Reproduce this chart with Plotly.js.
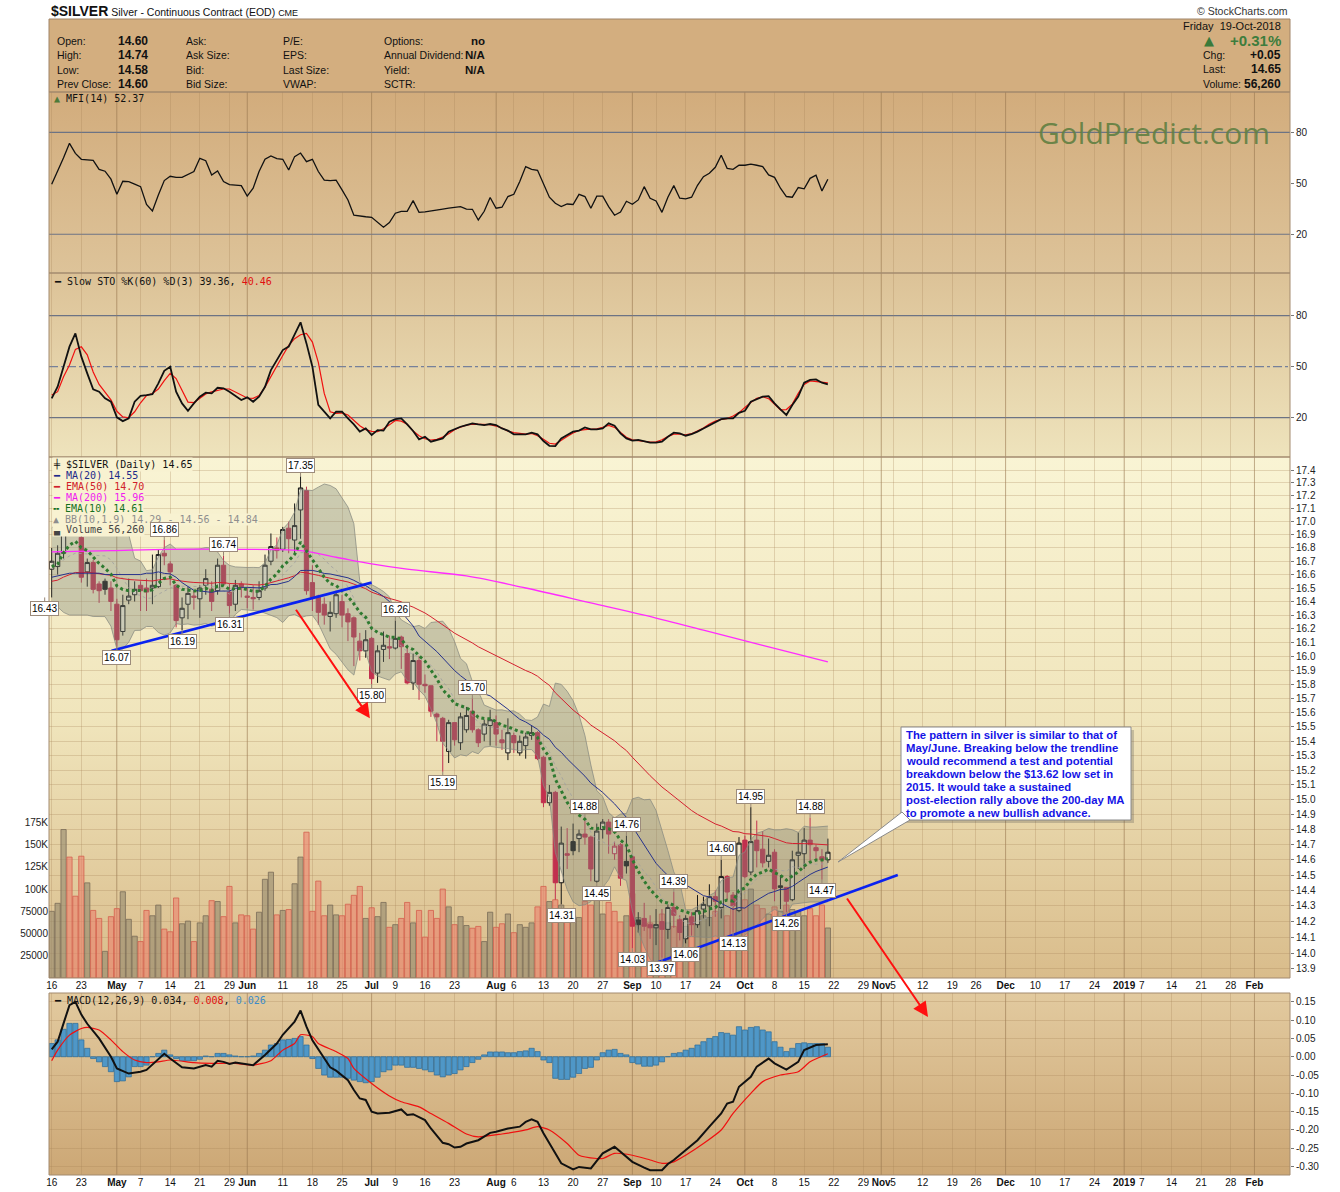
<!DOCTYPE html>
<html><head><meta charset="utf-8">
<script src="https://cdn.plot.ly/plotly-3.0.1.min.js"></script>
<style>html,body{margin:0;padding:0;background:#fff;}#chart{width:1340px;height:1192px;}</style>
</head><body><div id="chart"></div>
<script>
// ===================== DATA =====================
const holidays = ['2018-05-28','2018-07-04','2018-09-03','2018-11-22','2018-12-25','2019-01-01'];

const openP = [16.64,16.66,16.76,17.16,17.06,16.88,16.62,16.69,16.53,16.55,
16.50,16.38,16.18,16.41,16.45,16.52,16.50,16.50,16.51,16.76,
16.68,16.52,16.28,16.38,16.43,16.42,16.52,16.49,16.48,16.67,
16.47,16.38,16.53,16.43,16.43,16.43,16.50,16.70,16.80,16.79,
16.95,16.86,17.09,17.24,16.54,16.44,16.38,16.29,16.31,16.40,
16.31,16.28,16.11,16.04,16.13,15.88,16.05,16.07,16.06,16.14,
16.02,15.81,15.97,15.80,15.79,15.59,15.56,15.33,15.53,15.39,
15.48,15.61,15.48,15.45,15.51,15.53,15.41,15.32,15.44,15.32,
15.37,15.44,15.46,15.29,14.98,15.05,14.45,14.64,14.72,14.74,
14.77,14.75,14.46,14.80,14.85,14.64,14.70,14.59,14.62,14.21,
14.22,14.18,14.16,14.20,14.15,14.29,14.21,14.09,14.23,14.18,
14.28,14.30,14.36,14.29,14.49,14.37,14.27,14.73,14.52,14.73,
14.67,14.59,14.65,14.43,14.42,14.34,14.63,14.64,14.73,14.68,
14.62,14.60];
const highP = [16.80,16.82,17.22,17.30,17.12,16.92,16.72,16.71,16.55,16.57,
16.55,16.42,16.45,16.57,16.55,16.55,16.57,16.75,16.79,16.86,
16.70,16.53,16.43,16.51,16.48,16.52,16.64,16.55,16.72,16.74,
16.53,16.56,16.55,16.50,16.52,16.55,16.75,16.91,16.88,16.96,
17.00,17.14,17.35,17.27,16.67,16.45,16.43,16.40,16.48,16.45,
16.35,16.29,16.17,16.19,16.14,16.08,16.18,16.15,16.26,16.15,
16.07,16.02,16.00,15.87,15.79,15.60,15.57,15.55,15.53,15.60,
15.64,15.70,15.49,15.55,15.62,15.58,15.48,15.56,15.46,15.44,
15.46,15.51,15.47,15.30,15.10,15.06,14.82,14.81,14.84,14.80,
14.88,14.76,14.84,14.87,14.87,14.72,14.71,14.76,14.62,14.26,
14.32,14.24,14.28,14.28,14.31,14.39,14.24,14.24,14.26,14.37,
14.36,14.44,14.40,14.60,14.50,14.39,14.75,14.76,14.95,14.86,
14.79,14.74,14.67,14.50,14.42,14.66,14.78,14.81,14.88,14.70,
14.67,14.74];
const lowP = [16.43,16.60,16.72,17.00,16.92,16.54,16.51,16.46,16.39,16.45,
16.33,16.07,16.15,16.38,16.40,16.33,16.33,16.38,16.50,16.67,
16.52,16.21,16.19,16.27,16.34,16.28,16.45,16.33,16.45,16.52,
16.31,16.33,16.43,16.35,16.34,16.41,16.48,16.67,16.72,16.77,
16.76,16.76,16.87,16.45,16.33,16.23,16.23,16.18,16.28,16.21,
16.11,15.93,15.97,15.99,15.80,15.81,15.96,15.98,16.05,15.91,
15.80,15.76,15.69,15.74,15.57,15.40,15.19,15.25,15.37,15.34,
15.46,15.46,15.36,15.40,15.37,15.37,15.34,15.27,15.32,15.30,
15.28,15.41,15.27,14.95,14.96,14.34,14.31,14.54,14.63,14.65,
14.70,14.46,14.45,14.74,14.64,14.60,14.43,14.51,14.03,14.13,
14.14,14.09,14.05,13.97,14.09,14.16,14.08,14.06,14.11,14.16,
14.22,14.17,14.23,14.22,14.34,14.13,14.26,14.48,14.50,14.55,
14.55,14.55,14.33,14.28,14.26,14.33,14.54,14.54,14.58,14.60,
14.47,14.58];
const closeP = [16.70,16.76,17.15,17.08,16.98,16.58,16.69,16.49,16.48,16.49,
16.40,16.12,16.37,16.44,16.49,16.48,16.47,16.52,16.75,16.74,
16.62,16.26,16.35,16.46,16.44,16.50,16.57,16.40,16.67,16.53,
16.37,16.52,16.51,16.44,16.42,16.48,16.67,16.81,16.78,16.94,
16.87,16.97,17.26,16.48,16.43,16.32,16.30,16.32,16.45,16.30,
16.25,16.14,16.04,16.12,15.84,16.04,16.08,16.06,16.13,16.07,
15.81,15.97,15.80,15.79,15.61,15.57,15.40,15.53,15.41,15.57,
15.58,15.48,15.39,15.52,15.55,15.45,15.39,15.46,15.39,15.40,
15.43,15.46,15.28,14.98,15.05,14.45,14.71,14.63,14.66,14.77,
14.75,14.54,14.79,14.85,14.77,14.69,14.48,14.56,14.17,14.18,
14.17,14.16,14.18,14.15,14.29,14.24,14.13,14.22,14.18,14.27,
14.31,14.36,14.33,14.49,14.39,14.30,14.71,14.49,14.72,14.66,
14.58,14.63,14.41,14.42,14.33,14.60,14.65,14.73,14.70,14.66,
14.60,14.65];
const volumeK = [75,84,167,136,92,137,107,76,67,30,
69,78,97,66,47,41,76,70,82,55,
52,90,61,64,41,62,70,87,86,69,
103,62,71,70,55,74,111,119,71,76,
77,106,136,164,75,109,70,82,71,70,
83,93,103,67,79,69,85,57,60,67,
85,62,76,46,76,67,100,80,60,69,
59,56,58,41,74,57,61,72,51,60,
57,62,80,103,86,88,82,72,70,68,
86,82,92,72,85,75,63,70,95,68,
60,62,60,72,62,58,66,58,64,60,
70,68,75,80,70,78,95,88,100,82,
78,72,80,75,82,77,75,70,78,70,
82,56.26];

const mfi = [49.4,56.9,65.0,73.5,67.6,64.1,63.6,63.5,58.2,57.1,
52.4,43.5,51.2,51.0,49.5,48.0,37.6,33.7,43.1,51.6,
54.1,53.5,53.5,55.1,56.9,64.7,63.3,54.9,57.3,51.0,
49.2,48.9,48.6,42.4,47.1,56.9,64.1,66.1,64.5,64.1,
57.8,65.7,67.8,62.7,64.1,56.9,51.8,51.6,51.8,46.1,
40.2,31.2,30.6,30.3,30.0,26.9,24.1,26.9,32.4,33.5,
33.5,39.8,32.9,33.2,33.6,34.2,34.8,35.4,36.0,36.2,
34.8,34.7,28.4,33.5,41.6,35.3,35.9,42.2,43.5,51.0,
59.8,58.2,57.6,50.0,41.8,38.2,36.3,37.8,37.5,43.5,
42.2,35.3,42.4,42.4,36.3,31.2,33.1,39.4,37.6,40.2,
48.0,41.2,39.6,32.9,41.8,48.6,41.2,40.8,41.8,48.8,
53.9,55.9,59.4,66.5,58.8,58.2,60.6,60.6,61.2,60.6,
59.8,54.9,53.5,47.1,42.2,41.8,47.5,46.7,52.9,54.7,
45.5,52.4];

const stoK = [31.4,38.2,50.0,61.8,69.6,55.9,46.1,36.7,35.3,31.4,
29.4,20.2,18.0,19.6,29.4,32.9,33.3,33.9,40.2,47.6,
50.0,35.3,28.4,24.1,28.4,32.4,34.7,34.3,37.6,37.3,
35.3,32.7,30.4,32.0,29.4,32.4,38.2,48.0,53.9,59.8,
61.8,68.6,76.1,63.7,50.0,27.5,23.5,19.6,23.5,23.5,
19.6,16.1,11.8,13.7,9.8,12.7,12.4,17.6,19.2,19.6,
16.1,12.2,7.3,8.8,5.9,6.9,7.8,11.8,13.3,14.7,
15.7,16.7,16.1,15.7,16.3,15.7,13.7,12.4,10.2,10.2,
10.2,11.2,10.2,6.3,3.5,3.3,7.8,9.8,11.8,12.4,
14.3,13.1,13.1,13.7,16.7,15.3,10.8,7.8,6.5,6.9,
5.9,5.3,5.3,5.9,8.8,11.2,10.8,9.4,10.4,11.8,
13.7,15.7,17.6,19.2,19.6,19.6,22.9,24.1,29.4,30.8,
32.4,32.7,28.4,24.9,21.6,27.5,32.4,40.6,42.2,42.5,
40.6,39.6];
const stoD = [33.3,35.3,44.1,51.0,60.2,61.7,57.0,46.9,39.6,34.8,
30.5,23.8,20.5,20.0,23.5,28.8,33.0,34.2,36.9,41.8,
46.1,43.0,36.0,29.2,28.9,31.6,34.0,35.2,36.2,36.9,
36.9,35.2,33.2,31.6,31.4,33.0,38.0,44.5,50.6,56.6,
62.5,66.5,68.8,69.6,64.5,52.5,34.3,23.5,22.6,22.8,
21.6,18.2,15.3,13.0,12.0,11.8,13.5,15.8,18.4,18.0,
16.2,12.2,9.4,7.6,6.9,7.3,8.6,10.6,12.9,14.5,
15.6,16.2,16.2,16.1,15.9,15.1,13.9,12.1,11.2,10.8,
10.4,10.7,9.4,7.4,5.0,4.5,6.9,9.0,11.0,12.5,
13.0,13.4,13.5,14.4,15.5,14.3,11.4,8.5,7.0,6.6,
6.0,5.6,5.8,7.0,9.0,10.3,10.4,9.9,10.6,12.2,
14.0,16.3,18.0,19.0,19.5,21.0,23.0,26.0,29.0,31.4,
32.3,31.2,28.0,24.6,24.8,28.0,34.3,39.6,41.6,41.3,
41.0,40.5];

const macdHist = [0.036,0.046,0.075,0.091,0.091,0.046,0.023,-0.005,-0.014,-0.027,
-0.041,-0.068,-0.066,-0.055,-0.027,-0.027,-0.023,0.000,0.009,0.018,
0.005,-0.005,-0.011,-0.011,-0.011,-0.007,0.002,0.000,0.009,0.009,
0.005,0.002,0.000,0.000,0.002,0.009,0.018,0.032,0.036,0.046,
0.047,0.050,0.055,0.032,-0.005,-0.032,-0.050,-0.056,-0.056,-0.056,
-0.059,-0.064,-0.068,-0.071,-0.068,-0.056,-0.041,-0.036,-0.023,-0.023,
-0.029,-0.029,-0.032,-0.036,-0.041,-0.050,-0.055,-0.050,-0.046,-0.036,
-0.027,-0.016,-0.007,0.005,0.013,0.013,0.013,0.011,0.011,0.014,
0.016,0.023,0.014,-0.009,-0.016,-0.059,-0.062,-0.062,-0.056,-0.046,
-0.032,-0.029,-0.009,0.011,0.018,0.020,0.009,0.005,-0.016,-0.020,
-0.026,-0.026,-0.023,-0.014,0.000,0.009,0.011,0.018,0.023,0.032,
0.041,0.050,0.055,0.066,0.064,0.059,0.082,0.073,0.080,0.082,
0.073,0.068,0.041,0.026,0.014,0.023,0.036,0.038,0.036,0.036,
0.036,0.026];
const macdIdx = [0,1,2,3,4,5,6,8,10,11,13,15,16,18,19,20,21,22,24,25,26,27,28,29,30,31,32,34,36,38,39,41,42,43,44,46,47,48,50,51,52,53,54,55,57,59,60,61,63,64,66,67,68,69,70,72,74,75,77,79,80,81,82,83,85,86,88,89,91,93,95,96,98,100,101,103,104,105,107,109,111,113,114,115,116,118,119,121,122,124,126,127,129,131];
const macdVal = [0.020,0.041,0.091,0.141,0.150,0.115,0.090,0.050,0.000,-0.032,-0.046,-0.041,-0.036,-0.005,0.008,-0.005,-0.018,-0.029,-0.032,-0.027,-0.023,-0.027,-0.011,-0.014,-0.020,-0.016,-0.019,-0.023,0.005,0.036,0.060,0.096,0.126,0.082,0.045,-0.005,-0.029,-0.038,-0.064,-0.091,-0.114,-0.118,-0.150,-0.155,-0.153,-0.144,-0.159,-0.157,-0.173,-0.196,-0.235,-0.239,-0.248,-0.246,-0.237,-0.228,-0.208,-0.205,-0.196,-0.191,-0.178,-0.171,-0.178,-0.209,-0.264,-0.291,-0.308,-0.301,-0.305,-0.264,-0.246,-0.260,-0.287,-0.303,-0.310,-0.310,-0.293,-0.282,-0.255,-0.228,-0.191,-0.155,-0.128,-0.123,-0.082,-0.055,-0.027,-0.005,-0.018,-0.035,-0.014,0.018,0.032,0.034];
const signalIdx = [0,1,3,5,6,8,10,12,14,16,18,20,24,27,31,34,37,39,41,42,44,45,48,50,51,54,57,59,62,64,67,70,72,76,80,82,84,87,89,92,93,95,98,101,103,105,107,110,113,115,118,120,123,126,128,131];
const signalVal = [-0.011,0.018,0.059,0.077,0.080,0.073,0.046,0.014,-0.009,-0.016,-0.014,-0.009,-0.016,-0.018,-0.018,-0.023,-0.011,0.018,0.036,0.060,0.055,0.036,0.014,-0.005,-0.032,-0.073,-0.107,-0.123,-0.137,-0.155,-0.182,-0.211,-0.219,-0.211,-0.200,-0.191,-0.200,-0.237,-0.269,-0.278,-0.278,-0.264,-0.269,-0.282,-0.291,-0.287,-0.269,-0.237,-0.200,-0.155,-0.100,-0.068,-0.050,-0.041,-0.014,0.008];

const ma200Idx = [0,10,20,30,42,48,54,60,70,80,91,100,110,120,131];
const ma200Val = [16.77,16.78,16.79,16.79,16.78,16.73,16.68,16.64,16.59,16.50,16.39,16.30,16.19,16.08,15.96];
const ma20Early = [16.58,16.59,16.60,16.61,16.61,16.61,16.61,16.61,16.61,16.60,16.60,16.60,16.60,16.60,16.60,16.60,16.61,16.61,16.62];
const bbUpperEarly = [16.95,17.00,17.10,17.18,17.22,17.22,17.21,17.20,17.20];
const bbLowerEarly = [16.40,16.36,16.32,16.30,16.30,16.30,16.30,16.29,16.29];
const ema10Seed = 16.66, ema50Seed = 16.55;

const tickDates = ['2018-04-16','2018-04-23','2018-05-01','2018-05-07','2018-05-14','2018-05-21','2018-05-29','2018-06-01','2018-06-11','2018-06-18','2018-06-25','2018-07-02','2018-07-09','2018-07-16','2018-07-23','2018-08-01','2018-08-06','2018-08-13','2018-08-20','2018-08-27','2018-09-04','2018-09-10','2018-09-17','2018-09-24','2018-10-01','2018-10-08','2018-10-15','2018-10-22','2018-10-29','2018-11-01','2018-11-05','2018-11-12','2018-11-19','2018-11-26','2018-12-03','2018-12-10','2018-12-17','2018-12-24','2019-01-02','2019-01-07','2019-01-14','2019-01-21','2019-01-28','2019-02-01'];
const tickText = ['16','23','May','7','14','21','29','Jun','11','18','25','Jul','9','16','23','Aug','6','13','20','27','Sep','10','17','24','Oct','8','15','22','29','Nov','5','12','19','26','Dec','10','17','24','2019','7','14','21','28','Feb'];
const monthNames = ['May','Jun','Jul','Aug','Sep','Oct','Nov','Dec','2019','Feb'];

const priceTickVals = [13.9,14.0,14.1,14.2,14.3,14.4,14.5,14.6,14.7,14.8,14.9,15.0,15.1,15.2,15.3,15.4,15.5,15.6,15.7,15.8,15.9,16.0,16.1,16.2,16.3,16.4,16.5,16.6,16.7,16.8,16.9,17.0,17.1,17.2,17.3,17.4];
const volTickVals = [25,50,75,100,125,150,175];
const volTickText = ['25000','50000','75000','100K','125K','150K','175K'];
const macdTickVals = [-0.30,-0.25,-0.20,-0.15,-0.10,-0.05,0.00,0.05,0.10,0.15];

const labelIdx = [0,42,19,29,11,22,30,58,54,71,66,90,86,92,97,98,103,105,107,113,115,118,124,128,130];
const labelPrice = [16.43,17.35,16.86,16.74,16.07,16.19,16.31,16.26,15.80,15.70,15.19,14.88,14.31,14.45,14.76,14.03,13.97,14.39,14.06,14.60,14.13,14.95,14.26,14.88,14.47];
const labelSide = ['below','above','above','above','below','below','below','above','below','above','below','above','below','below','above','below','below','above','below','above','below','above','below','above','below'];

const noteLines = ['The pattern in silver is similar to that of','May/June. Breaking below the trendline','would recommend a test and potential','breakdown below the $13.62 low set in','2015. It would take a sustained','post-election rally above the 200-day MA','to promote a new bullish advance.'];

// ===================== HELPERS =====================
const H = 1192, L = 49, R = 1290;
const px = x => (x - L) / (R - L);
const py = y => 1 - y / H;
const lg = v => Math.log10(v);

function tradingDays(){
  const out = []; let t = Date.UTC(2018,3,16); const end = Date.UTC(2019,1,20);
  while (t <= end) { const d = new Date(t); const wd = d.getUTCDay(); const s = d.toISOString().slice(0,10);
    if (wd !== 0 && wd !== 6 && holidays.indexOf(s) < 0) out.push(s); t += 86400000; }
  return out;
}
const days = tradingDays(); const dayIdx = {}; days.forEach((s,i)=>dayIdx[s]=i);
const tickIdx = tickDates.map(s => dayIdx[s]);
const tickHtml = tickText.map(t => monthNames.indexOf(t) >= 0 ? '<b>'+t+'</b>' : t);

const n = closeP.length;
const xs = closeP.map((_,i)=>i);
const avg = a => a.reduce((s,v)=>s+v,0)/a.length;
function emaFrom(seed, k){ const o=[seed]; for(let i=1;i<n;i++) o.push(o[i-1]+k*(closeP[i]-o[i-1])); return o; }
const ema10 = emaFrom(ema10Seed, 2/11);
const ema50 = emaFrom(ema50Seed, 2/51);
const ma20 = xs.map(i => i < 19 ? ma20Early[i] : avg(closeP.slice(i-19,i+1)));
const bbU=[], bbL=[], bbM=[];
xs.forEach(i => {
  if (i < 9) { bbU.push(bbUpperEarly[i]); bbL.push(bbLowerEarly[i]); bbM.push((bbUpperEarly[i]+bbLowerEarly[i])/2); }
  else { const w = closeP.slice(i-9,i+1); const m = avg(w); const sd = Math.sqrt(avg(w.map(c=>(c-m)*(c-m))));
    bbU.push(m+1.9*sd); bbL.push(m-1.9*sd); bbM.push(m); }
});
const upDay = xs.map(i => i===0 ? true : closeP[i] >= closeP[i-1]);

function subset(flag){
  const o={x:[],open:[],high:[],low:[],close:[]};
  xs.forEach(i=>{ if(upDay[i]===flag){o.x.push(i);o.open.push(openP[i]);o.high.push(highP[i]);o.low.push(lowP[i]);o.close.push(closeP[i]);} });
  return o;
}
const blackC = subset(true), redC = subset(false);
const RED = '#C2304E', BLK = '#151515';

// ===================== TRACES =====================
const traces = [];
traces.push({type:'scatter',mode:'lines',x:xs,y:mfi,xaxis:'x',yaxis:'y',line:{color:'#111',width:1.3},hoverinfo:'skip'});
traces.push({type:'scatter',mode:'lines',x:xs,y:stoD,xaxis:'x2',yaxis:'y2',line:{color:'#F01010',width:1.2},hoverinfo:'skip'});
traces.push({type:'scatter',mode:'lines',x:xs,y:stoK,xaxis:'x2',yaxis:'y2',line:{color:'#111',width:1.8},hoverinfo:'skip'});
traces.push({type:'bar',x:xs,y:volumeK,xaxis:'x3',yaxis:'y3',
  marker:{color:upDay.map(u=>u?'rgba(150,138,112,0.62)':'rgba(236,128,108,0.58)'),
          line:{color:upDay.map(u=>u?'#7A6C58':'#D4604E'),width:0.8}},hoverinfo:'skip'});
traces.push({type:'scatter',mode:'lines',x:xs,y:bbU,xaxis:'x3',yaxis:'y4',line:{color:'rgba(135,138,128,0.75)',width:1},hoverinfo:'skip'});
traces.push({type:'scatter',mode:'lines',x:xs,y:bbL,xaxis:'x3',yaxis:'y4',fill:'tonexty',fillcolor:'rgba(125,132,120,0.36)',line:{color:'rgba(135,138,128,0.75)',width:1},hoverinfo:'skip'});
traces.push({type:'scatter',mode:'lines',x:xs,y:bbM,xaxis:'x3',yaxis:'y4',line:{color:'rgba(160,160,160,0.8)',width:1,dash:'dot'},hoverinfo:'skip'});
traces.push({type:'scatter',mode:'lines',x:ma200Idx,y:ma200Val,xaxis:'x3',yaxis:'y4',line:{color:'#FF2BFF',width:1.3,shape:'spline'},hoverinfo:'skip'});
traces.push({type:'scatter',mode:'lines',x:xs,y:ema50,xaxis:'x3',yaxis:'y4',line:{color:'#D42030',width:1},hoverinfo:'skip'});
traces.push({type:'scatter',mode:'lines',x:xs,y:ma20,xaxis:'x3',yaxis:'y4',line:{color:'#26328C',width:1},hoverinfo:'skip'});
traces.push({type:'scatter',mode:'lines',x:xs,y:ema10,xaxis:'x3',yaxis:'y4',line:{color:'#2E7A30',width:3,dash:'dot'},hoverinfo:'skip'});
// user-drawn trendlines
const trendLines = [{x:[10.1,54.0],y:[16.04,16.54]},{x:[100.7,142.8],y:[13.92,14.50]}];
trendLines.forEach(t=>traces.push({type:'scatter',mode:'lines',x:t.x,y:t.y,xaxis:'x3',yaxis:'y4',line:{color:'#0A22F0',width:2.6},hoverinfo:'skip',cliponaxis:false}));
traces.push({type:'candlestick',x:blackC.x,open:blackC.open,high:blackC.high,low:blackC.low,close:blackC.close,xaxis:'x3',yaxis:'y4',
  increasing:{line:{color:BLK,width:1},fillcolor:'rgba(255,255,250,0.45)'},decreasing:{line:{color:BLK,width:1},fillcolor:BLK},whiskerwidth:0,hoverinfo:'skip'});
traces.push({type:'candlestick',x:redC.x,open:redC.open,high:redC.high,low:redC.low,close:redC.close,xaxis:'x3',yaxis:'y4',
  increasing:{line:{color:RED,width:1},fillcolor:'rgba(255,255,250,0.45)'},decreasing:{line:{color:RED,width:1},fillcolor:RED},whiskerwidth:0,hoverinfo:'skip'});
traces.push({type:'bar',x:xs,y:macdHist,xaxis:'x4',yaxis:'y5',marker:{color:'#4F97C7',line:{color:'#2A6A98',width:0.7}},hoverinfo:'skip'});
traces.push({type:'scatter',mode:'lines',x:signalIdx,y:signalVal,xaxis:'x4',yaxis:'y5',line:{color:'#F01010',width:1.2,shape:'spline',smoothing:0.6},hoverinfo:'skip'});
traces.push({type:'scatter',mode:'lines',x:macdIdx,y:macdVal,xaxis:'x4',yaxis:'y5',line:{color:'#111',width:2},hoverinfo:'skip'});

// ===================== LAYOUT =====================
const xRange = [-0.456, 209.0];
const gridC = 'rgba(165,130,85,0.28)';
function xAx(anchor, labels){ return {range:xRange,anchor:anchor,domain:[0,1],tickmode:'array',tickvals:tickIdx,ticktext:tickHtml,tickangle:0,
  showgrid:true,gridcolor:gridC,gridwidth:1,zeroline:false,showline:false,ticks:'',showticklabels:labels,
  tickfont:{family:'Liberation Sans, Arial',size:10,color:'#111'},fixedrange:true,rangeslider:{visible:false}}; }
const yTickFont = {family:'Liberation Sans, Arial',size:10,color:'#222'};
const P = {mfi:[92,273],sto:[273,457],price:[457,978],macd:[993,1175]};
const dom = p => [py(p[1]), py(p[0])];

function grad(stops){
  const st = stops.map(s=>`<stop offset="${s[0]}" stop-color="${s[1]}"/>`).join('');
  const svg = `<svg xmlns="http://www.w3.org/2000/svg" width="100" height="100" preserveAspectRatio="none"><defs><linearGradient id="g" x1="0" y1="0" x2="0" y2="1">${st}</linearGradient></defs><rect width="100" height="100" fill="url(#g)"/></svg>`;
  return 'data:image/svg+xml;charset=utf-8,' + encodeURIComponent(svg);
}
function panelImg(p, stops){ return {source:grad(stops),xref:'paper',yref:'paper',x:0,y:py(p[0]),sizex:1,sizey:(p[1]-p[0])/H,xanchor:'left',yanchor:'top',sizing:'stretch',layer:'below'}; }
const images = [
  panelImg(P.mfi, [[0,'#D2AC7C'],[1,'#DDC399']]),
  panelImg(P.sto, [[0,'#DCC297'],[1,'#EEE3BC']]),
  panelImg(P.price, [[0,'#F9F4D4'],[0.5,'#F0E5BC'],[1,'#D9BC8B']]),
  panelImg(P.macd, [[0,'#E2CA9F'],[1,'#CCA775']])
];

const shapes = [];
shapes.push({type:'rect',xref:'paper',yref:'paper',x0:0,x1:1,y0:py(92),y1:py(19),fillcolor:'#D3AE7F',line:{color:'#A08468',width:1},layer:'below'});
const monthStarts = ['2018-05-01','2018-06-01','2018-07-02','2018-08-01','2018-09-04','2018-10-01','2018-11-01','2018-12-03','2019-01-02','2019-02-01'];
[['x','y'],['x2','y2'],['x3','y3'],['x4','y5']].forEach(ax=>monthStarts.forEach(d=>shapes.push({type:'line',xref:ax[0],yref:ax[1]+' domain',x0:dayIdx[d],x1:dayIdx[d],y0:0,y1:1,line:{color:'rgba(140,110,75,0.42)',width:1},layer:'below'})));
[[80,'y'],[20,'y'],[80,'y2'],[20,'y2']].forEach(r=>shapes.push({type:'line',xref:'paper',yref:r[1],x0:0,x1:1,y0:r[0],y1:r[0],line:{color:'#6C7384',width:1.2},layer:'below'}));
shapes.push({type:'line',xref:'paper',yref:'y2',x0:0,x1:1,y0:50,y1:50,line:{color:'#76809A',width:1.2,dash:'dashdot'},layer:'below'});
[P.mfi,P.sto,P.price,P.macd].forEach(p=>shapes.push({type:'rect',xref:'paper',yref:'paper',x0:0,x1:1,y0:py(p[1]),y1:py(p[0]),line:{color:'#A38A6E',width:1},fillcolor:'rgba(0,0,0,0)',layer:'above'}));
// callout box (shadow, box, tail)
shapes.push({type:'rect',xref:'paper',yref:'paper',x0:px(904),x1:px(1134),y0:py(823),y1:py(730),fillcolor:'rgba(70,70,70,0.25)',line:{width:0},layer:'above'});
shapes.push({type:'rect',xref:'paper',yref:'paper',x0:px(901),x1:px(1131),y0:py(820),y1:py(727),fillcolor:'#FFFFFF',line:{color:'#8A8A8A',width:1},layer:'above'});
shapes.push({type:'path',xref:'paper',yref:'paper',path:`M ${px(838)} ${py(862)} L ${px(902)} ${py(812)} L ${px(910)} ${py(820)} Z`,fillcolor:'#FFFFFF',line:{color:'#8A8A8A',width:1},layer:'above'});

const ann = [];
const hdrF = 'Liberation Sans, Arial';
function txt(x,y,t,opt){ ann.push(Object.assign({xref:'paper',yref:'paper',x:px(x),y:py(y),text:t,showarrow:false,xanchor:'left',yanchor:'middle',font:{family:hdrF,size:10.5,color:'#111'}},opt||{})); }
txt(49,11.5,'<span style="font-size:14px"><b>$SILVER</b></span> Silver - Continuous Contract (EOD) <span style="font-size:9px">CME</span>',{font:{family:hdrF,size:10.5,color:'#111'}});
txt(1290,11.5,'© StockCharts.com',{xanchor:'right',font:{family:hdrF,size:10.5,color:'#333'}});
const rowsY = [41,55.3,70,84.3];
const col1 = ['Open:','High:','Low:','Prev Close:'], col1v = ['14.60','14.74','14.58','14.60'];
const col2 = ['Ask:','Ask Size:','Bid:','Bid Size:'];
const col3 = ['P/E:','EPS:','Last Size:','VWAP:'];
const col4 = ['Options:','Annual Dividend:','Yield:','SCTR:'], col4v = ['no','N/A','N/A',''];
rowsY.forEach((y,i)=>{
  txt(55,y,col1[i]); txt(116,y,'<b>'+col1v[i]+'</b>',{font:{family:hdrF,size:12,color:'#111'}});
  txt(184,y,col2[i]); txt(281,y,col3[i]); txt(382,y,col4[i]);
  if(col4v[i]) txt(487,y,'<b>'+col4v[i]+'</b>',{xanchor:'right',font:{family:hdrF,size:11.5,color:'#111'}});
});
txt(1283,25.7,'Friday&nbsp;&nbsp;19-Oct-2018',{xanchor:'right',font:{family:hdrF,size:11,color:'#111'}});
txt(1209,41,'▲',{xanchor:'center',font:{family:'DejaVu Sans',size:13,color:'#3A7A3A'}});
txt(1283,41,'<b>+0.31%</b>',{xanchor:'right',font:{family:hdrF,size:15,color:'#3D7D3D'}});
[['Chg:','+0.05',55],['Last:','14.65',69.3],['Volume:','56,260',83.8]].forEach(r=>{
  txt(1201,r[2],r[0],{font:{family:hdrF,size:10.5,color:'#111'}});
  txt(1283,r[2],'<b>'+r[1]+'</b>',{xanchor:'right',font:{family:hdrF,size:12,color:'#111'}});
});
txt(1154,132,'GoldPredict.com',{xanchor:'center',font:{family:'Open Sans, Noto Sans, sans-serif',size:30,color:'rgba(98,128,66,0.92)'}});
const monoF = 'DejaVu Sans Mono, Liberation Mono, monospace';
txt(52,98.5,'<span style="color:#4C7A38">▲</span> MFI(14) 52.37',{font:{family:monoF,size:10,color:'#111'}});
txt(52,281.5,'━ Slow STO %K(60) %D(3) 39.36, <span style="color:#E01010">40.46</span>',{font:{family:monoF,size:10,color:'#111'}});
txt(52,1000.5,'━ MACD(12,26,9) 0.034, <span style="color:#E01010">0.008</span>, <span style="color:#3C8CC8">0.026</span>',{font:{family:monoF,size:10,color:'#111'}});
const legendRows = [
  ['╪ $SILVER (Daily) 14.65','#111',464],
  ['━ MA(20) 14.55','#1C2A8A',475.5],
  ['━ EMA(50) 14.70','#D0202A',486.5],
  ['━ MA(200) 15.96','#F01AF0',497.5],
  ['╍ EMA(10) 14.61','#17701F',508.3],
  ['▲ BB(10,1.9) 14.29 - 14.56 - 14.84','#8E8E8E',519],
  ['▃ Volume 56,260','#444',529.5]
];
legendRows.forEach(r=>txt(52,r[2],r[0],{bgcolor:'#F8F2D1',borderpad:0,font:{family:monoF,size:10,color:r[1]}}));
labelIdx.forEach((ix,k)=>{
  const above = labelSide[k]==='above';
  ann.push({xref:'x3',yref:'y4',x:ix,y:lg(labelPrice[k]),text:labelPrice[k].toFixed(2),showarrow:true,arrowhead:0,arrowwidth:1,arrowcolor:'#978676',
    ax:0,ay:above?-11:11,standoff:0,xshift:ix===0?-7:0,bgcolor:'#FFFFFF',bordercolor:'#9C8B7B',borderwidth:1,borderpad:1,
    font:{family:'Liberation Sans, Arial',size:10,color:'#000'}});
});
ann.push({xref:'x3',yref:'y4',x:53.7,y:lg(15.56),axref:'x3',ayref:'y4',ax:41.06,ay:lg(16.35),text:'',showarrow:true,arrowhead:2,arrowsize:1.5,arrowwidth:2,arrowcolor:'#FF1010',standoff:0});
ann.push({xref:'paper',yref:'paper',x:px(928),y:py(1017),axref:'pixel',ayref:'pixel',ax:-82,ay:-120,text:'',showarrow:true,arrowhead:2,arrowsize:1.5,arrowwidth:2,arrowcolor:'#FF1010',standoff:0});
noteLines.forEach((s,i)=>txt(904,735+13*i,'<b>'+s+'</b>',{font:{family:hdrF,size:11.3,color:'#1414E6'}}));

const layout = {
  width:1340,height:1192,margin:{l:49,r:50,t:0,b:0,pad:0},
  paper_bgcolor:'#FFFFFF',plot_bgcolor:'rgba(0,0,0,0)',showlegend:false,
  font:{family:'Liberation Sans, Arial',size:10,color:'#111'},
  bargap:0.12,boxgap:0.15,boxgroupgap:0.15,hovermode:false,
  xaxis:xAx('y',false), xaxis2:xAx('y2',false), xaxis3:xAx('y3',true), xaxis4:xAx('y5',true),
  yaxis:{domain:dom(P.mfi),range:[-2.8,103.7],side:'right',tickmode:'array',tickvals:[20,50,80],showgrid:false,zeroline:false,ticks:'outside',ticklen:3,tickcolor:'#777',tickfont:yTickFont,fixedrange:true},
  yaxis2:{domain:dom(P.sto),range:[-3.1,105.1],side:'right',tickmode:'array',tickvals:[20,50,80],showgrid:false,zeroline:false,ticks:'outside',ticklen:3,tickcolor:'#777',tickfont:yTickFont,fixedrange:true},
  yaxis3:{domain:dom(P.price),range:[0,586],side:'left',tickmode:'array',tickvals:volTickVals,ticktext:volTickText,showgrid:false,zeroline:false,ticks:'',tickfont:yTickFont,fixedrange:true},
  yaxis4:{overlaying:'y3',anchor:'x3',side:'right',type:'log',range:[1.14125,1.24309],tickmode:'array',tickvals:priceTickVals,ticktext:priceTickVals.map(v=>v.toFixed(1)),showgrid:true,gridcolor:gridC,zeroline:false,ticks:'outside',ticklen:3,tickcolor:'#777',tickfont:yTickFont,fixedrange:true},
  yaxis5:{domain:dom(P.macd),range:[-0.323,0.174],side:'right',tickmode:'array',tickvals:macdTickVals,ticktext:macdTickVals.map(v=>v.toFixed(2)),showgrid:true,gridcolor:gridC,zeroline:false,ticks:'outside',ticklen:3,tickcolor:'#777',tickfont:yTickFont,fixedrange:true},
  images:images, shapes:shapes, annotations:ann
};
Plotly.newPlot('chart', traces, layout, {displayModeBar:false,staticPlot:true});
</script></body></html>
